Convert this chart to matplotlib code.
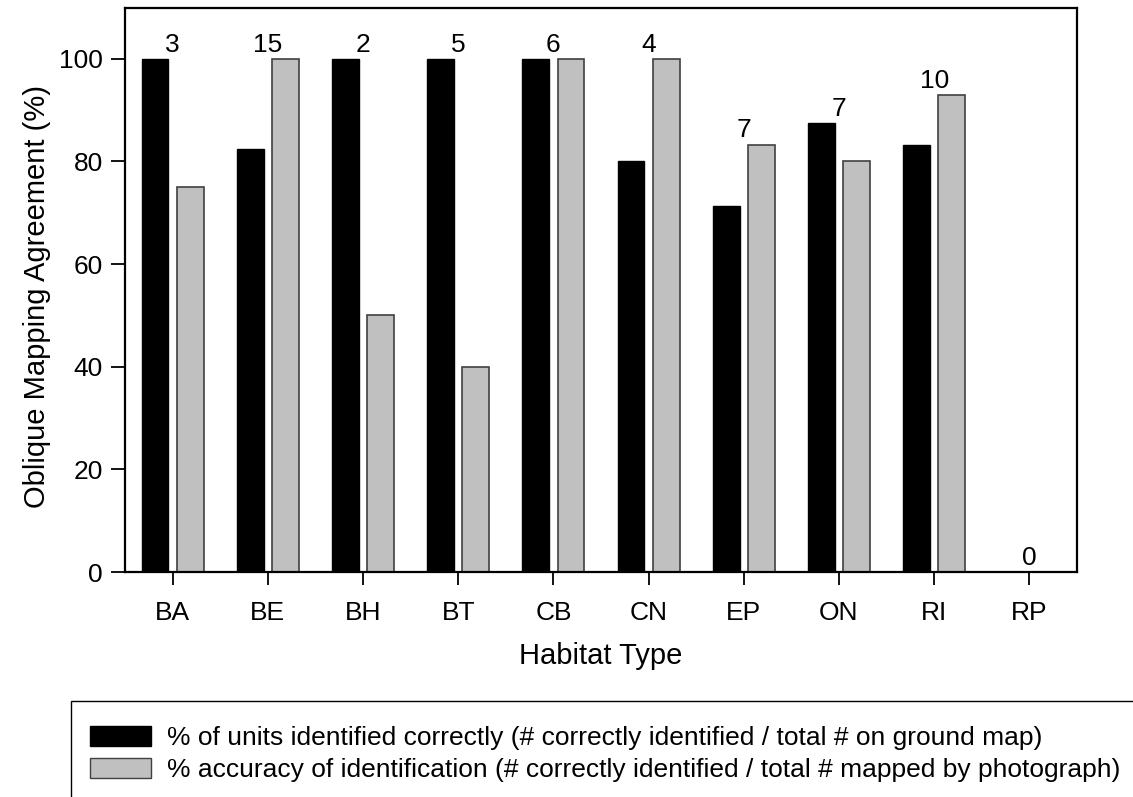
import matplotlib
matplotlib.use("Agg")
import matplotlib.pyplot as plt
from matplotlib.patches import Rectangle, Patch
import numpy as np

plt.rcParams['font.family'] = ['Liberation Sans', 'DejaVu Sans']

categories = ["BA", "BE", "BH", "BT", "CB", "CN", "EP", "ON", "RI", "RP"]
pct_correct = [100, 82.5, 100, 100, 100, 80, 71.4, 87.5, 83.3, 0]
pct_accuracy = [75, 100, 50, 40, 100, 100, 83.3, 80, 92.9, 0]
counts = ["3", "15", "2", "5", "6", "4", "7", "7", "10", "0"]
label_correct = "% of units identified correctly (# correctly identified / total # on ground map)"
label_accuracy = "% accuracy of identification (# correctly identified / total # mapped by photograph)"

W, H = 1133, 797
fig = plt.figure(figsize=(W / 100, H / 100), dpi=100)
ax = fig.add_axes([125 / W, 1 - 572 / H, (1077 - 125) / W, (572 - 7.5) / H])

x = np.arange(len(categories))
bw = 0.28
off = 0.185
ax.bar(x - off, pct_correct, bw, color="black", edgecolor="black", linewidth=1.0, zorder=2)
ax.bar(x + off, pct_accuracy, bw, color="#c0c0c0", edgecolor="#404040", linewidth=1.2, zorder=2)

for i, c in enumerate(counts):
    top = max(pct_correct[i], pct_accuracy[i])
    ax.text(x[i], top + 1.4, c, ha="center", va="baseline", fontsize=19)

ax.set_xlim(-0.5, len(categories) - 0.5)
ax.set_ylim(0, 110)
ax.set_yticks([0, 20, 40, 60, 80, 100])
ax.set_xticks(x)
ax.set_xticklabels(categories)
ax.tick_params(axis="both", direction="out", labelsize=19, width=1.3)
ax.tick_params(axis="y", length=10, pad=6)
ax.tick_params(axis="x", length=9, pad=12)
for s in ax.spines.values():
    s.set_linewidth(1.6)
ax.set_xlabel("Habitat Type", fontsize=21, labelpad=12)
ax.set_ylabel("Oblique Mapping Agreement (%)", fontsize=21)
ax.yaxis.set_label_coords((51 - 125) / (1077 - 125), (572 - 297) / (572 - 7.5))

# legend box (extends beyond figure edges like the reference)
fig.patches.append(Rectangle((71 / W, -0.05), 1.0, (1 - 701 / H) + 0.05,
                             transform=fig.transFigure, fill=False,
                             edgecolor="black", linewidth=1.0))
handles = [Patch(facecolor="black", edgecolor="black", label=label_correct),
           Patch(facecolor="#c0c0c0", edgecolor="#404040", label=label_accuracy)]
fig.legend(handles=handles, loc="upper left", bbox_to_anchor=(90 / W, 1 - 726 / H),
           frameon=False, fontsize=19, borderpad=0, borderaxespad=0,
           handlelength=2.31, handleheight=0.8, handletextpad=0.6, labelspacing=0.28)

fig.savefig("out.png", dpi=100)
